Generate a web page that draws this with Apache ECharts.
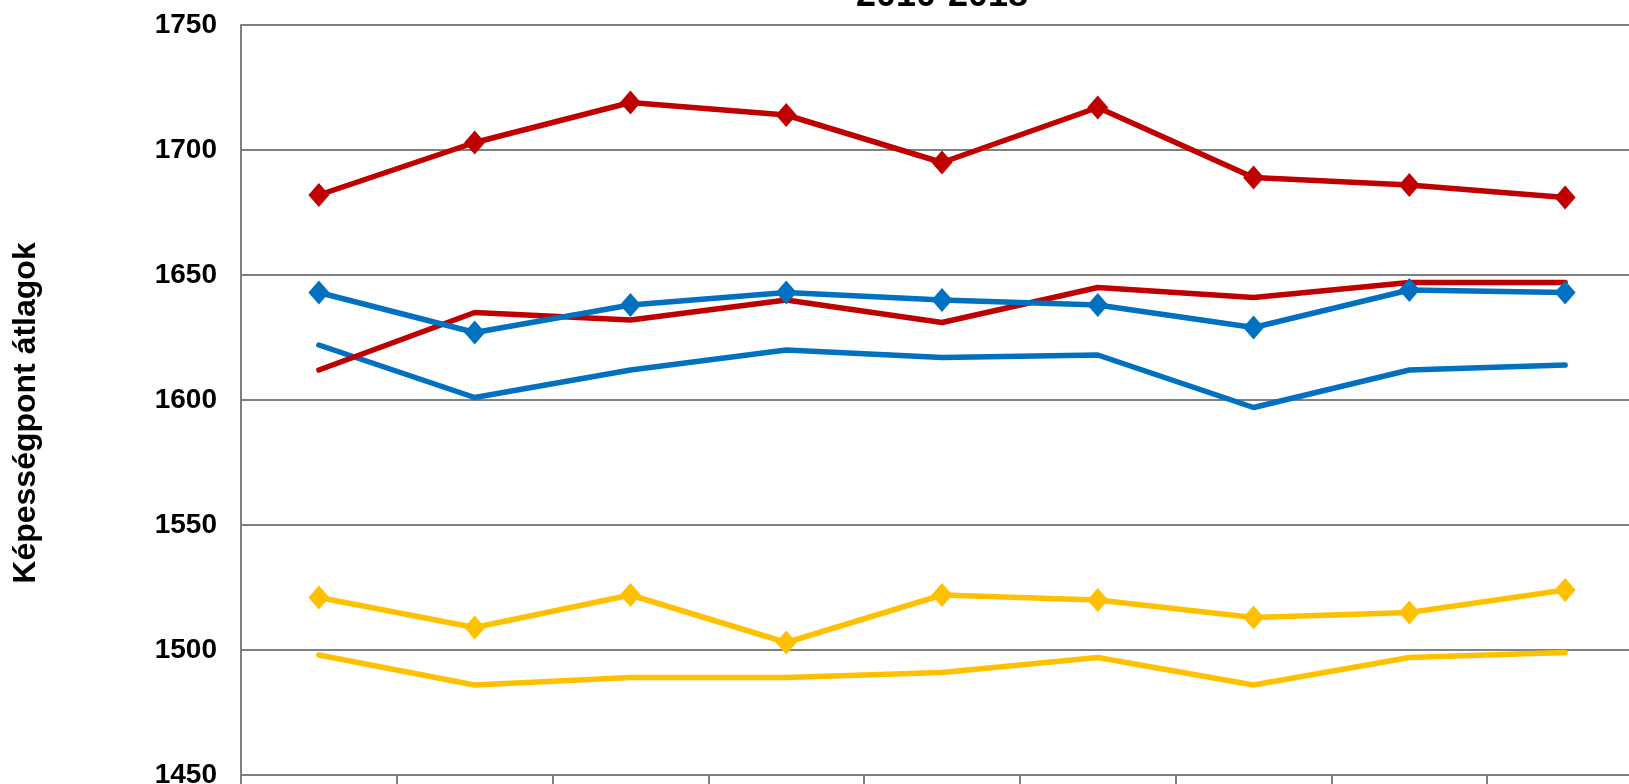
<!DOCTYPE html>
<html>
<head>
<meta charset="utf-8">
<script src="https://cdn.jsdelivr.net/npm/echarts@6/dist/echarts.min.js"></script>
<style>
  html, body { margin: 0; padding: 0; background: #fff; }
  #chart { width: 1629px; height: 784px; }
</style>
</head>
<body>
<div id="chart"></div>
<script>
const years = ['2010', '2011', '2012', '2013', '2014', '2015', '2016', '2017', '2018']

// piros, kék, sárga – rombusz jelölős és jelölő nélküli vonalak
const redMarked = [1682, 1703, 1719, 1714, 1695, 1717, 1689, 1686, 1681]
const redPlain = [1612, 1635, 1632, 1640, 1631, 1645, 1641, 1647, 1647]
const blueMarked = [1643, 1627, 1638, 1643, 1640, 1638, 1629, 1644, 1643]
const bluePlain = [1622, 1601, 1612, 1620, 1617, 1618, 1597, 1612, 1614]
const yellowMarked = [1521, 1509, 1522, 1503, 1522, 1520, 1513, 1515, 1524]
const yellowPlain = [1498, 1486, 1489, 1489, 1491, 1497, 1486, 1497, 1499]

const FONT = '"Liberation Sans", Arial, sans-serif'

const chart = echarts.init(document.getElementById('chart'))

const marked = (data, color) => ({
  type: 'line',
  data: data,
  symbol: 'diamond',
  symbolSize: [21, 24],
  showAllSymbol: true,
  itemStyle: {color: color},
  lineStyle: {color: color, width: 5.5},
  animation: false
})

const plain = (data, color) => ({
  type: 'line',
  data: data,
  symbol: 'none',
  lineStyle: {color: color, width: 5.5, cap: 'round'},
  animation: false
})

chart.setOption({
  animation: false,
  graphic: [
    {
      type: 'text',
      x: 942,
      y: 14,
      z: 100,
      style: {
        text: '2010-2018',
        fontFamily: FONT,
        fontWeight: 'bold',
        fontSize: 36,
        fill: '#000',
        align: 'center',
        verticalAlign: 'bottom'
      }
    }
  ],
  grid: {
    left: 241,
    top: 25,
    width: 1402,
    height: 750,
    outerBoundsMode: 'none'
  },
  xAxis: {
    type: 'category',
    data: years,
    boundaryGap: true,
    axisLine: {lineStyle: {color: '#808080', width: 2}},
    axisTick: {show: true, length: 12, lineStyle: {color: '#808080', width: 2}},
    axisLabel: {show: false},
    splitLine: {show: false}
  },
  yAxis: {
    type: 'value',
    min: 1450,
    max: 1750,
    interval: 50,
    name: 'Képességpont átlagok',
    nameLocation: 'middle',
    nameGap: 199,
    nameRotate: 90,
    nameTextStyle: {
      fontFamily: FONT, fontWeight: 'bold', fontSize: 32, color: '#000',
      padding: [0, 26, 0, 0]
    },
    axisLine: {show: true, lineStyle: {color: '#808080', width: 2}},
    axisTick: {show: false},
    axisLabel: {
      fontFamily: FONT, fontWeight: 'bold', fontSize: 28, color: '#000', margin: 24,
      formatter: (v) => String(v)
    },
    splitLine: {lineStyle: {color: '#808080', width: 2}}
  },
  series: [
    plain(yellowPlain, '#FFC000'),
    marked(yellowMarked, '#FFC000'),
    plain(bluePlain, '#0070C0'),
    plain(redPlain, '#C00000'),
    marked(blueMarked, '#0070C0'),
    marked(redMarked, '#C00000')
  ]
})
</script>
</body>
</html>
